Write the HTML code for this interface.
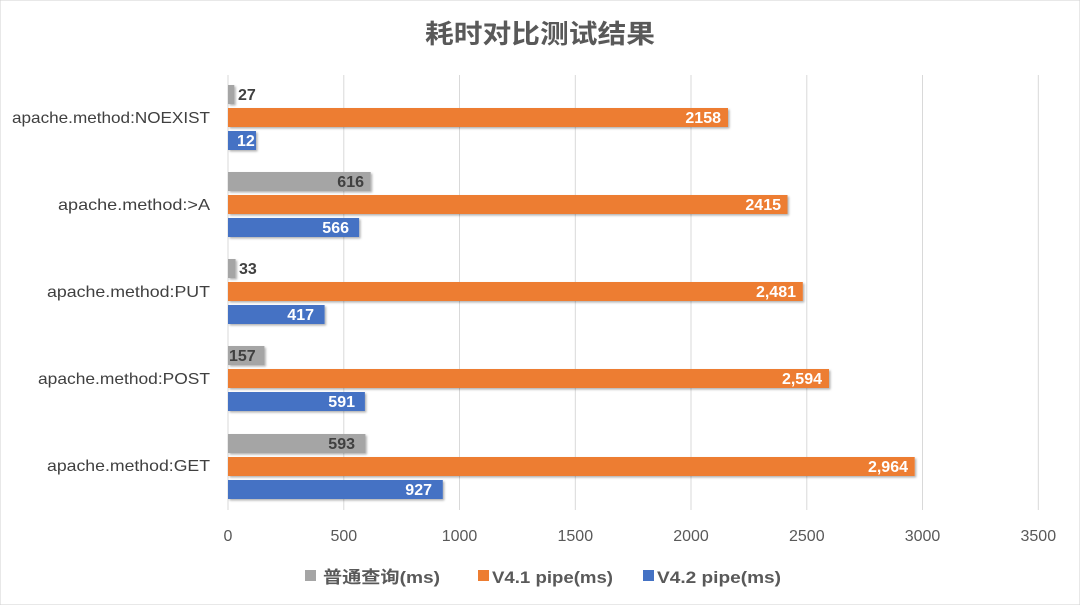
<!DOCTYPE html>
<html><head><meta charset="utf-8"><style>
body{margin:0;background:#fff;}
svg text{font-family:"Liberation Sans","Noto Sans CJK SC",sans-serif;}
</style></head><body>
<svg width="1080" height="605" xmlns="http://www.w3.org/2000/svg">
<defs><filter id="s" x="-5%" y="-20%" width="110%" height="160%"><feDropShadow dx="1.5" dy="1.5" stdDeviation="1" flood-color="#000" flood-opacity="0.3"/></filter></defs>
<rect width="1080" height="605" fill="#fff" stroke="#d0d0d0"/>
<text x="425" y="43" font-size="26" font-weight="bold" fill="#595959" textLength="230" lengthAdjust="spacingAndGlyphs">耗时对比测试结果</text>
<g stroke="#d9d9d9" stroke-width="1">
<line x1="228" y1="75" x2="228" y2="510"/><line x1="343.8" y1="75" x2="343.8" y2="510"/><line x1="459.5" y1="75" x2="459.5" y2="510"/><line x1="575.3" y1="75" x2="575.3" y2="510"/><line x1="691" y1="75" x2="691" y2="510"/><line x1="806.8" y1="75" x2="806.8" y2="510"/><line x1="922.5" y1="75" x2="922.5" y2="510"/><line x1="1038.3" y1="75" x2="1038.3" y2="510"/>
</g>
<g font-size="16" fill="#595959" text-anchor="middle">
<text x="228" y="541">0</text><text x="343.8" y="541">500</text><text x="459.5" y="541">1000</text><text x="575.3" y="541">1500</text><text x="691" y="541">2000</text><text x="806.8" y="541">2500</text><text x="922.5" y="541">3000</text><text x="1038.3" y="541">3500</text>
</g>
<g font-size="16" fill="#404040">
<text x="12" y="123" textLength="198" lengthAdjust="spacingAndGlyphs">apache.method:NOEXIST</text>
<text x="58" y="210" textLength="152" lengthAdjust="spacingAndGlyphs">apache.method:&gt;A</text>
<text x="47" y="297" textLength="163" lengthAdjust="spacingAndGlyphs">apache.method:PUT</text>
<text x="38" y="384" textLength="172" lengthAdjust="spacingAndGlyphs">apache.method:POST</text>
<text x="47" y="471" textLength="163" lengthAdjust="spacingAndGlyphs">apache.method:GET</text>
</g>
<g filter="url(#s)">
<rect x="228" y="85" width="6.3" height="19" fill="#a5a5a5"/>
<rect x="228" y="108" width="500" height="19" fill="#ed7d31"/>
<rect x="228" y="131" width="28" height="19" fill="#4472c4"/>
<rect x="228" y="172" width="142.7" height="19" fill="#a5a5a5"/>
<rect x="228" y="195" width="559.5" height="19" fill="#ed7d31"/>
<rect x="228" y="218" width="131.1" height="19" fill="#4472c4"/>
<rect x="228" y="259" width="7.6" height="19" fill="#a5a5a5"/>
<rect x="228" y="282" width="574.8" height="19" fill="#ed7d31"/>
<rect x="228" y="305" width="96.6" height="19" fill="#4472c4"/>
<rect x="228" y="346" width="36.4" height="19" fill="#a5a5a5"/>
<rect x="228" y="369" width="601" height="19" fill="#ed7d31"/>
<rect x="228" y="392" width="136.9" height="19" fill="#4472c4"/>
<rect x="228" y="434" width="137.4" height="19" fill="#a5a5a5"/>
<rect x="228" y="457" width="686.7" height="19" fill="#ed7d31"/>
<rect x="228" y="480" width="214.8" height="19" fill="#4472c4"/>
</g>
<g font-size="16" font-weight="bold">
<text x="238" y="100" fill="#404040">27</text>
<text x="721" y="123" fill="#fff" text-anchor="end">2158</text>
<text x="237" y="146" fill="#fff">12</text>
<text x="364" y="187" fill="#404040" text-anchor="end">616</text>
<text x="781" y="210" fill="#fff" text-anchor="end">2415</text>
<text x="349" y="233" fill="#fff" text-anchor="end">566</text>
<text x="239" y="274" fill="#404040">33</text>
<text x="796" y="297" fill="#fff" text-anchor="end">2,481</text>
<text x="314" y="320" fill="#fff" text-anchor="end">417</text>
<text x="229" y="361" fill="#404040">157</text>
<text x="822" y="384" fill="#fff" text-anchor="end">2,594</text>
<text x="355" y="407" fill="#fff" text-anchor="end">591</text>
<text x="355" y="449" fill="#404040" text-anchor="end">593</text>
<text x="908" y="472" fill="#fff" text-anchor="end">2,964</text>
<text x="432" y="495" fill="#fff" text-anchor="end">927</text>
</g>
<g font-size="17" font-weight="bold" fill="#595959">
<rect x="305" y="570" width="11" height="11" fill="#a5a5a5"/><text x="323" y="583" textLength="117" lengthAdjust="spacingAndGlyphs">普通查询(ms)</text>
<rect x="478" y="570" width="11" height="11" fill="#ed7d31"/><text x="492" y="583" textLength="121" lengthAdjust="spacingAndGlyphs">V4.1 pipe(ms)</text>
<rect x="643" y="570" width="11" height="11" fill="#4472c4"/><text x="657" y="583" textLength="124" lengthAdjust="spacingAndGlyphs">V4.2 pipe(ms)</text>
</g>
</svg>
</body></html>
